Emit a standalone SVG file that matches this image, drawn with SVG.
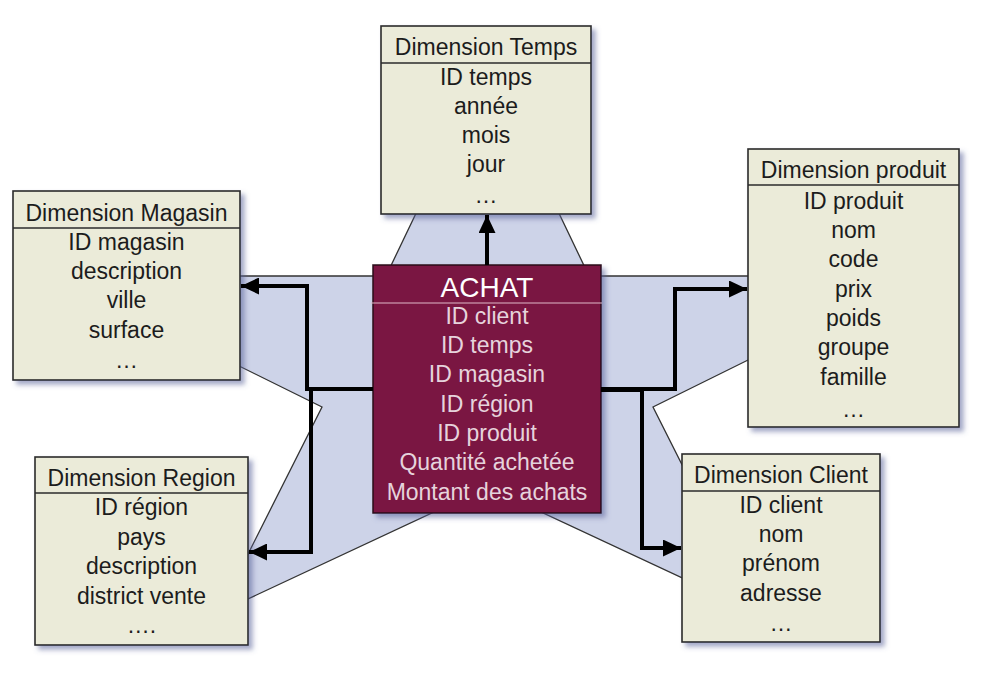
<svg xmlns="http://www.w3.org/2000/svg" width="1007" height="693" viewBox="0 0 1007 693">
  <defs>
    <filter id="sh" x="-10%" y="-10%" width="125%" height="125%">
      <feDropShadow dx="4" dy="4" stdDeviation="2.5" flood-color="#5a629a" flood-opacity="0.55"/>
    </filter>
    <marker id="arr" markerUnits="userSpaceOnUse" markerWidth="19" markerHeight="17" refX="18" refY="8.5" orient="auto">
      <path d="M0,0 L18,8.5 L0,17 Z" fill="#000"/>
    </marker>
    <style>
      .dim{fill:#ebebd9;stroke:#2b2b2b;stroke-width:1.6}
      .div{stroke:#2b2b2b;stroke-width:1.4}
      .t{font-family:"Liberation Sans",Arial,sans-serif;font-size:23px;fill:#1c1c1c;text-anchor:middle}
      .f{font-family:"Liberation Sans",Arial,sans-serif;font-size:23px;fill:#e6d3dc;text-anchor:middle}
      .fh{font-family:"Liberation Sans",Arial,sans-serif;font-size:28px;fill:#ffffff;text-anchor:middle}
      .c{fill:none;stroke:#000;stroke-width:4;stroke-linejoin:miter}
    </style>
  </defs>
  <rect width="1007" height="693" fill="#ffffff"/>

  <polygon id="star" points="487.5,64 589,276 918,276 653,407 756.5,612.7 487.5,487 218.5,612.7 322,407 57,276 386,276" fill="#cdd3e8" stroke="#333" stroke-width="1.3"/>

  <g id="node-temps">
    <rect class="dim" x="381" y="26" width="210" height="188" filter="url(#sh)"/>
    <line class="div" x1="381" y1="63" x2="591" y2="63"/>
    <text class="t" x="486" y="55">Dimension Temps</text>
    <text class="t" x="486" y="85">ID temps</text>
    <text class="t" x="486" y="114">année</text>
    <text class="t" x="486" y="143">mois</text>
    <text class="t" x="486" y="172">jour</text>
    <text class="t" x="486" y="203">…</text>
  </g>

  <g id="node-magasin">
    <rect class="dim" x="13" y="191" width="227" height="189" filter="url(#sh)"/>
    <line class="div" x1="13" y1="228" x2="240" y2="228"/>
    <text class="t" x="126.5" y="221">Dimension Magasin</text>
    <text class="t" x="126.5" y="250">ID magasin</text>
    <text class="t" x="126.5" y="279">description</text>
    <text class="t" x="126.5" y="308">ville</text>
    <text class="t" x="126.5" y="338">surface</text>
    <text class="t" x="126.5" y="368">…</text>
  </g>

  <g id="node-region">
    <rect class="dim" x="35" y="457" width="213" height="188" filter="url(#sh)"/>
    <line class="div" x1="35" y1="493" x2="248" y2="493"/>
    <text class="t" x="141.5" y="486">Dimension Region</text>
    <text class="t" x="141.5" y="515">ID région</text>
    <text class="t" x="141.5" y="545">pays</text>
    <text class="t" x="141.5" y="574">description</text>
    <text class="t" x="141.5" y="604">district vente</text>
    <text class="t" x="141.5" y="633">….</text>
  </g>

  <g id="node-produit">
    <rect class="dim" x="748" y="149" width="211" height="278" filter="url(#sh)"/>
    <line class="div" x1="748" y1="185" x2="959" y2="185"/>
    <text class="t" x="853.5" y="178">Dimension produit</text>
    <text class="t" x="853.5" y="209">ID produit</text>
    <text class="t" x="853.5" y="238">nom</text>
    <text class="t" x="853.5" y="267">code</text>
    <text class="t" x="853.5" y="297">prix</text>
    <text class="t" x="853.5" y="326">poids</text>
    <text class="t" x="853.5" y="355">groupe</text>
    <text class="t" x="853.5" y="385">famille</text>
    <text class="t" x="853.5" y="417">…</text>
  </g>

  <g id="node-client">
    <rect class="dim" x="682" y="454" width="198" height="188" filter="url(#sh)"/>
    <line class="div" x1="682" y1="491" x2="880" y2="491"/>
    <text class="t" x="781" y="483">Dimension Client</text>
    <text class="t" x="781" y="513">ID client</text>
    <text class="t" x="781" y="542">nom</text>
    <text class="t" x="781" y="571">prénom</text>
    <text class="t" x="781" y="601">adresse</text>
    <text class="t" x="781" y="631">…</text>
  </g>

  <g id="node-achat">
    <rect x="373" y="265" width="228" height="248" fill="#7a1442" stroke="#2a0a18" stroke-width="1.5" filter="url(#sh)"/>
    <line x1="371" y1="303" x2="602" y2="303" stroke="#e0b8c8" stroke-width="1"/>
    <text class="fh" x="487" y="297">ACHAT</text>
    <text class="f" x="487" y="324">ID client</text>
    <text class="f" x="487" y="353">ID temps</text>
    <text class="f" x="487" y="382">ID magasin</text>
    <text class="f" x="487" y="412">ID région</text>
    <text class="f" x="487" y="441">ID produit</text>
    <text class="f" x="487" y="470">Quantité achetée</text>
    <text class="f" x="487" y="500">Montant des achats</text>
  </g>

  <g id="connectors">
    <path class="c" d="M487,265 L487,215" marker-end="url(#arr)"/>
    <path class="c" d="M373,389 L307,389 L307,286 L241,286" marker-end="url(#arr)"/>
    <path class="c" d="M373,389 L311,389 L311,552 L249,552" marker-end="url(#arr)"/>
    <path class="c" d="M601,389 L675,389 L675,289 L747,289" marker-end="url(#arr)"/>
    <path class="c" d="M601,390 L642,390 L642,548 L681,548" marker-end="url(#arr)"/>
  </g>
</svg>
